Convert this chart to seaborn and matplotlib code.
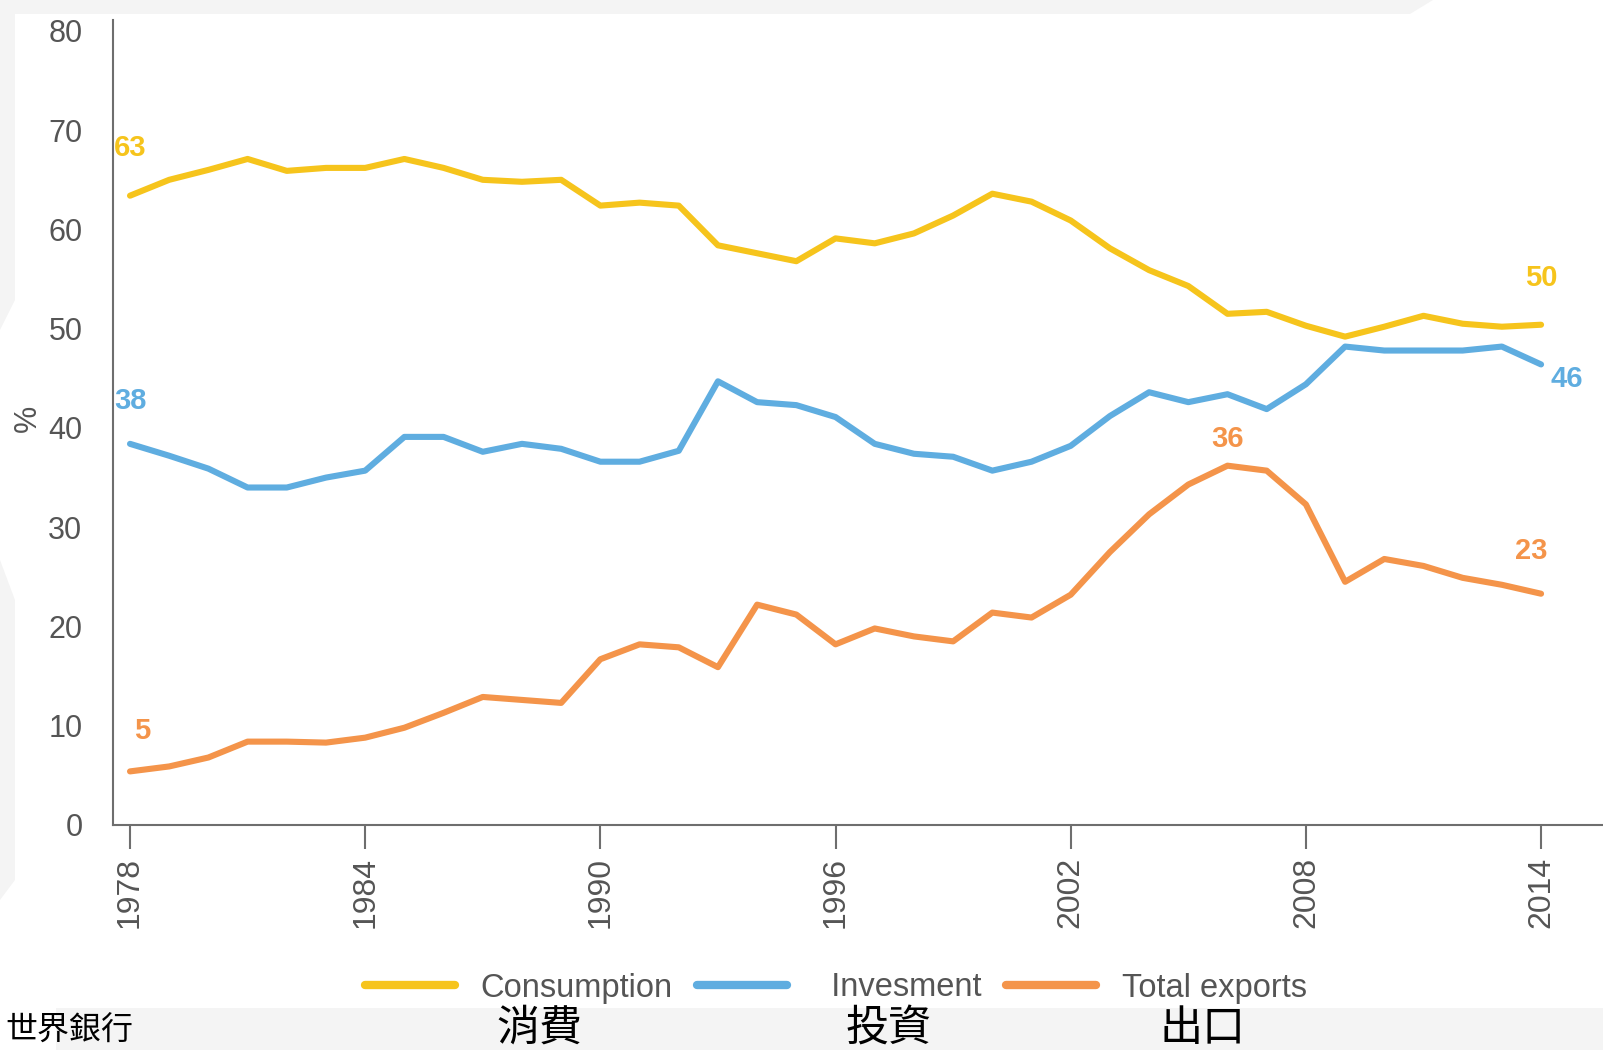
import numpy as np
import pandas as pd
import matplotlib
matplotlib.use("Agg")
import matplotlib.pyplot as plt
from matplotlib.patches import Polygon
import seaborn as sns

# Share of GDP (%), 1978-2014
years = list(range(1978, 2015))
consumption = [63.4, 65.0, 66.0, 67.1, 65.9, 66.2, 66.2, 67.1, 66.2, 65.0,
               64.8, 65.0, 62.4, 62.7, 62.4, 58.4, 57.6, 56.8, 59.1, 58.6,
               59.6, 61.4, 63.6, 62.8, 60.9, 58.1, 55.9, 54.3, 51.5, 51.7,
               50.3, 49.2, 50.2, 51.3, 50.5, 50.2, 50.4]
investment = [38.4, 37.2, 35.9, 34.0, 34.0, 35.0, 35.7, 39.1, 39.1, 37.6,
              38.4, 37.9, 36.6, 36.6, 37.7, 44.7, 42.6, 42.3, 41.1, 38.4,
              37.4, 37.1, 35.7, 36.6, 38.2, 41.2, 43.6, 42.6, 43.4, 41.9,
              44.4, 48.2, 47.8, 47.8, 47.8, 48.2, 46.4]
exports = [5.4, 5.9, 6.8, 8.4, 8.4, 8.3, 8.8, 9.8, 11.3, 12.9,
           12.6, 12.3, 16.7, 18.2, 17.9, 15.9, 22.2, 21.2, 18.2, 19.8,
           19.0, 18.5, 21.4, 20.9, 23.2, 27.5, 31.3, 34.3, 36.2, 35.7,
           32.3, 24.5, 26.8, 26.1, 24.9, 24.2, 23.3]

series_names = ["Consumption", "Invesment", "Total exports"]
legend_labels = ["Consumption", "  Invesment", "Total exports"]
colors = ["#F6C41C", "#5FADE0", "#F4944A"]
chinese_names = ["消費", "投資", "出口"]
source_text = "世界銀行"

# value labels: (series index, year, text)
point_labels = [(0, 1978, "63"), (1, 1978, "38"), (2, 1978, "5"),
                (0, 2014, "50"), (1, 2014, "46"), (2, 2006, "36"),
                (2, 2014, "23")]

df = pd.DataFrame({
    "year": years * 3,
    "value": consumption + investment + exports,
    "series": [series_names[0]] * len(years) + [series_names[1]] * len(years)
              + [series_names[2]] * len(years),
})

sns.set_theme(style="white")
plt.rcParams["font.family"] = ["Liberation Sans", "DejaVu Sans"]

W, H = 1603, 1050
fig = plt.figure(figsize=(W / 100, H / 100), dpi=100, facecolor="white")

# faint slide backdrop shapes
bg = "#F4F4F4"
def px_poly(pts, **kw):
    return Polygon([(x / W, 1 - y / H) for x, y in pts], closed=True,
                   transform=fig.transFigure, facecolor=bg, edgecolor="none",
                   zorder=0, **kw)
fig.patches.extend([
    px_poly([(0, 0), (1433, 0), (1410, 14), (0, 14)]),
    px_poly([(0, 0), (15, 0), (15, 300), (0, 330)]),
    px_poly([(0, 560), (15, 600), (15, 880), (0, 900)]),
    px_poly([(56, 1008), (1603, 1008), (1603, 1050), (56, 1050)]),
])

ax = fig.add_axes([113 / W, 1 - 825 / H, 1 - 113 / W, (825 - 20) / H])
ax.set_facecolor("none")

sns.lineplot(data=df, x="year", y="value", hue="series",
             palette=dict(zip(series_names, colors)), linewidth=4.4,
             ax=ax, legend=True)

ax.set_xlim(1977.566, 2015.58)
ax.set_ylim(0, 81.1)
ax.set_xticks(list(range(1978, 2015, 6)))
ax.set_yticks(list(range(0, 81, 10)))

text_gray = "#555555"
for s in ["top", "right"]:
    ax.spines[s].set_visible(False)
for s in ["left", "bottom"]:
    ax.spines[s].set_color("#6E6E6E")
    ax.spines[s].set_linewidth(1.5)

ax.tick_params(axis="x", direction="out", length=17, width=1.5,
               color="#6E6E6E", pad=6, labelsize=23, labelcolor=text_gray,
               labelrotation=90, bottom=True)
ax.tick_params(axis="y", length=0, pad=22, labelsize=22, labelcolor=text_gray)
ax.set_xlabel("")
ax.set_ylabel("%", fontsize=22, color=text_gray)
ax.yaxis.set_label_coords(-0.047, 0.505)
ax.grid(False)

all_series = [consumption, investment, exports]
offsets = {(0, 1978): (0, 4.8), (1, 1978): (0, 4.3), (2, 1978): (0.3, 4.1),
           (0, 2014): (0, 4.7), (1, 2014): (0.65, -1.5), (2, 2006): (0, 2.7),
           (2, 2014): (-0.25, 4.3)}
for si, yr, txt in point_labels:
    val = all_series[si][years.index(yr)]
    dx, dy = offsets[(si, yr)]
    ax.text(yr + dx, val + dy, txt, color=colors[si], fontsize=21,
            fontweight="bold", ha="center", va="center")

handles, labels = ax.get_legend_handles_labels()
ax.get_legend().remove()
for h in handles:
    h.set_linewidth(6)
fig.legend(handles, legend_labels, loc="center", ncol=3, frameon=False,
           bbox_to_anchor=(836 / W, 1 - 988 / H), fontsize=23.5,
           handlelength=2.75, handletextpad=0.8, columnspacing=0.75,
           labelcolor=text_gray)

cjk = ["Noto Sans CJK TC", "DejaVu Sans"]
for name, cx in zip(chinese_names, [539, 889, 1203]):
    fig.text(cx / W, 1 - 1029 / H, name, family=cjk, fontsize=31,
             color="black", ha="center", va="center")
fig.text(5 / W, 1 - 1031 / H, source_text, family=cjk, fontsize=23,
         style="italic", color="black", ha="left", va="center")

fig.savefig("out.png", dpi=100, facecolor="white")
